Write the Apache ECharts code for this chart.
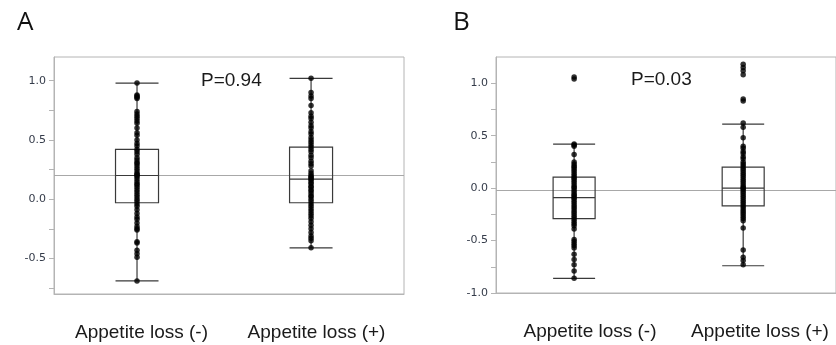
<!DOCTYPE html>
<html>
<head>
<meta charset="utf-8">
<script src="https://cdn.jsdelivr.net/npm/echarts@6/dist/echarts.min.js"></script>
<style>
  html, body { margin: 0; padding: 0; background: #fff; }
  #chart { width: 836px; height: 345px; }
</style>
</head>
<body>
<div id="chart"></div>
<script>
// 分组名称
var groups = ['Appetite loss (-)', 'Appetite loss (+)'];

// 箱线 [min, Q1, median, Q3, max]
var boxA = [[-0.69, -0.03, 0.20, 0.42, 0.98], [-0.41, -0.03, 0.17, 0.44, 1.02]];
var boxB = [[-0.86, -0.29, -0.09, 0.105, 0.42], [-0.74, -0.17, 0.00, 0.20, 0.61]];

// 均值参考线
var meanA = 0.20;
var meanB = -0.02;

// P 值
var pA = 'P=0.94';
var pB = 'P=0.03';

// 散点 (每组)
var ptsAneg = [0.98, 0.88, 0.87, 0.86, 0.85, 0.74, 0.72, 0.70, 0.68, 0.66, 0.64, 0.60, 0.56, 0.54,
  0.50, 0.47, 0.45, 0.42, 0.40, 0.38, 0.35, 0.33, 0.31, 0.30, 0.28, 0.26, 0.24, 0.22, 0.21, 0.20,
  0.19, 0.17, 0.15, 0.13, 0.12, 0.10, 0.08, 0.06, 0.04, 0.02, 0.00, -0.02, -0.04, -0.06, -0.09,
  -0.12, -0.15, -0.17, -0.20, -0.23, -0.25, -0.26, -0.36, -0.37, -0.43, -0.46, -0.49, -0.69];
var ptsApos = [1.02, 0.90, 0.87, 0.85, 0.79, 0.73, 0.70, 0.68, 0.65, 0.62, 0.60, 0.57, 0.55, 0.52,
  0.50, 0.48, 0.46, 0.44, 0.42, 0.40, 0.37, 0.35, 0.32, 0.30, 0.28, 0.24, 0.22, 0.20, 0.19, 0.18,
  0.17, 0.16, 0.14, 0.13, 0.11, 0.10, 0.08, 0.07, 0.05, 0.03, 0.02, 0.00, -0.02, -0.04, -0.06,
  -0.08, -0.10, -0.12, -0.14, -0.16, -0.19, -0.22, -0.25, -0.28, -0.31, -0.33, -0.35, -0.41];
var ptsBneg = [1.06, 1.04, 0.42, 0.41, 0.40, 0.32, 0.25, 0.23, 0.21, 0.20, 0.18, 0.16, 0.14, 0.12,
  0.10, 0.09, 0.07, 0.05, 0.03, 0.01, 0.00, -0.02, -0.04, -0.06, -0.07, -0.09, -0.10, -0.12, -0.14,
  -0.16, -0.18, -0.20, -0.22, -0.24, -0.26, -0.28, -0.30, -0.32, -0.34, -0.36, -0.39, -0.49, -0.51,
  -0.53, -0.55, -0.57, -0.63, -0.68, -0.73, -0.79, -0.86];
var ptsBpos = [1.18, 1.15, 1.12, 1.08, 0.85, 0.83, 0.62, 0.58, 0.48, 0.40, 0.38, 0.35, 0.33, 0.30,
  0.28, 0.25, 0.23, 0.21, 0.19, 0.17, 0.15, 0.13, 0.11, 0.09, 0.07, 0.05, 0.03, 0.01, 0.00, -0.01,
  -0.03, -0.05, -0.07, -0.09, -0.11, -0.13, -0.15, -0.17, -0.19, -0.21, -0.23, -0.25, -0.27, -0.29,
  -0.31, -0.38, -0.59, -0.66, -0.69, -0.73];

// y轴刻度
var labelsA = [-0.5, 0, 0.5, 1.0];
var ticksA = [-0.75, -0.5, -0.25, 0, 0.25, 0.5, 0.75, 1.0];
var labelsB = [-1.0, -0.5, 0, 0.5, 1.0];
var ticksB = [-1.0, -0.75, -0.5, -0.25, 0, 0.25, 0.5, 0.75, 1.0];

function toPts(idx, arr) {
  return arr.map(function (v) { return [idx, v]; });
}

var frameColor = '#b4b4b4';
var darkLine = '#3a3a3a';

function yAxisOf(gi, min, max, labels, ticks) {
  return {
    type: 'value', gridIndex: gi, min: min, max: max,
    axisLine: { show: true, onZero: false, lineStyle: { color: frameColor } },
    axisTick: { show: true, length: 5, customValues: ticks, lineStyle: { color: frameColor } },
    axisLabel: {
      customValues: labels, margin: 8, color: '#353c4a',
      fontFamily: 'DejaVu Sans', fontSize: 11,
      formatter: function (v) { return v.toFixed(1); }
    },
    splitLine: { show: false }
  };
}

function labelAxis(gi, pad) {
  return {
    type: 'category', gridIndex: gi, position: 'bottom', data: groups,
    axisLine: { show: true, onZero: false, lineStyle: { color: frameColor } },
    axisTick: { show: false },
    axisLabel: {
      interval: 0, margin: 29, color: '#1a1a1a', fontFamily: 'Liberation Sans', fontSize: 19,
      padding: pad
    },
    splitLine: { show: false }
  };
}

function valueXAxis(gi, min, max) {
  return {
    type: 'value', gridIndex: gi, position: 'bottom', min: min, max: max, show: false,
    axisLine: { onZero: false }, splitLine: { show: false }
  };
}

var myChart = echarts.init(document.getElementById('chart'));

myChart.setOption({
  backgroundColor: '#fff',
  animation: false,
  title: [
    { text: 'A', left: 12, top: 5, textStyle: { fontFamily: 'Open Sans', fontSize: 26, fontWeight: 'normal', color: '#111' } },
    { text: 'B', left: 448, top: 5, textStyle: { fontFamily: 'Open Sans', fontSize: 26, fontWeight: 'normal', color: '#111' } },
    { text: pA, left: 196, top: 66, textStyle: { fontFamily: 'Liberation Sans', fontSize: 19, fontWeight: 'normal', color: '#1a1a1a' } },
    { text: pB, left: 626, top: 65, textStyle: { fontFamily: 'Liberation Sans', fontSize: 19, fontWeight: 'normal', color: '#1a1a1a' } }
  ],
  grid: [
    { left: 54, top: 57, width: 350, height: 237, show: true, borderColor: frameColor, borderWidth: 1, backgroundColor: 'transparent' },
    { left: 496, top: 57, width: 348, height: 236, show: true, borderColor: frameColor, borderWidth: 1, backgroundColor: 'transparent' }
  ],
  xAxis: [
    labelAxis(0, [0, 0, 0, 0]),
    valueXAxis(0, -0.477, 1.534),
    labelAxis(1, [0, 0, 0, 18]),
    valueXAxis(1, -0.462, 1.549)
  ],
  yAxis: [
    yAxisOf(0, -0.8, 1.2, labelsA, ticksA),
    yAxisOf(1, -1.0, 1.25, labelsB, ticksB)
  ],
  series: [
    {
      type: 'boxplot', xAxisIndex: 1, yAxisIndex: 0,
      data: boxA.map(function (b, i) { return [i].concat(b); }),
      encode: { x: 0, y: [1, 2, 3, 4, 5] },
      boxWidth: [43, 43],
      itemStyle: { color: 'transparent', borderColor: darkLine, borderWidth: 1.2 },
      silent: true, z: 2
    },
    {
      type: 'boxplot', xAxisIndex: 3, yAxisIndex: 1,
      data: boxB.map(function (b, i) { return [i].concat(b); }),
      encode: { x: 0, y: [1, 2, 3, 4, 5] },
      boxWidth: [42, 42],
      itemStyle: { color: 'transparent', borderColor: darkLine, borderWidth: 1.2 },
      silent: true, z: 2
    },
    {
      type: 'scatter', xAxisIndex: 1, yAxisIndex: 0,
      data: toPts(0, ptsAneg).concat(toPts(1, ptsApos)),
      symbolSize: 5.5, itemStyle: { color: '#000' }, z: 3,
      markLine: {
        silent: true, symbol: ['none', 'none'], label: { show: false },
        lineStyle: { color: '#a8a8a8', type: 'solid', width: 1 },
        data: [{ yAxis: meanA }], z: 1
      }
    },
    {
      type: 'scatter', xAxisIndex: 3, yAxisIndex: 1,
      data: toPts(0, ptsBneg).concat(toPts(1, ptsBpos)),
      symbolSize: 5.5, itemStyle: { color: '#000' }, z: 3,
      markLine: {
        silent: true, symbol: ['none', 'none'], label: { show: false },
        lineStyle: { color: '#a8a8a8', type: 'solid', width: 1 },
        data: [{ yAxis: meanB }], z: 1
      }
    }
  ]
});
</script>
</body>
</html>
